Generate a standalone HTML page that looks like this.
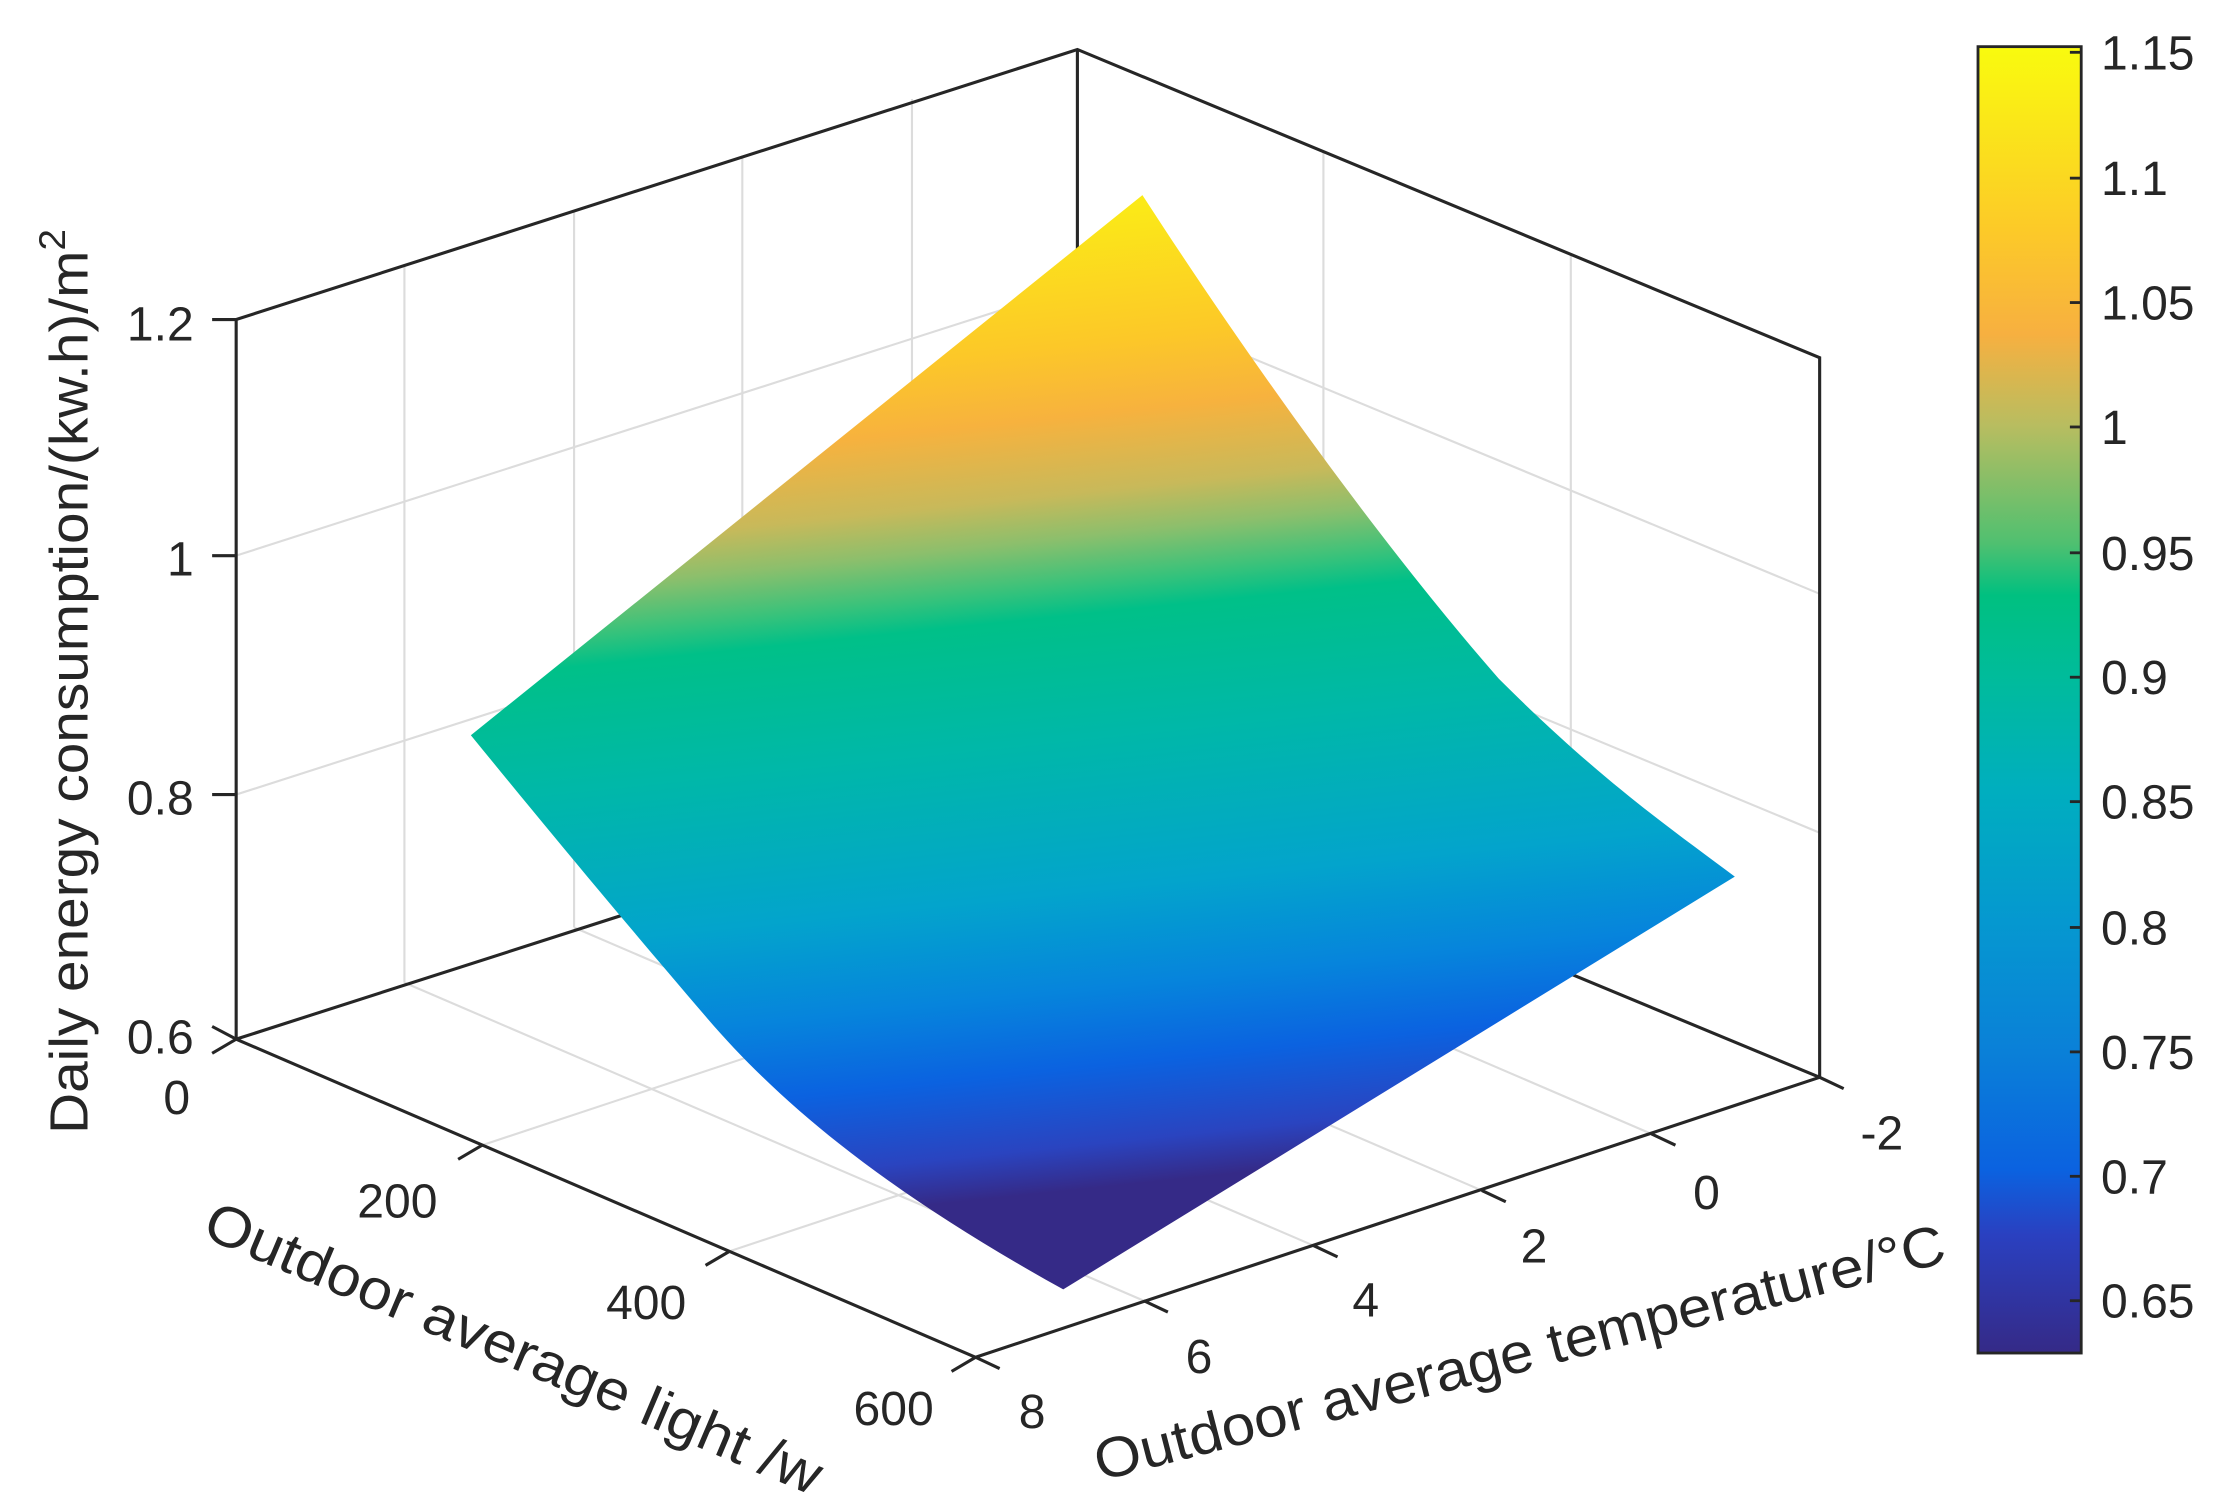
<!DOCTYPE html>
<html><head><meta charset="utf-8"><style>
html,body{margin:0;padding:0;background:#fff;}
svg{display:block;}
text{font-family:"Liberation Sans",Arial,sans-serif;fill:#262626;}
</style></head><body>
<svg width="2217" height="1493" viewBox="0 0 1568 1056" xmlns="http://www.w3.org/2000/svg">
<defs>
<linearGradient id="surf" gradientUnits="userSpaceOnUse" x1="0" y1="138" x2="80" y2="912">
<stop offset="0" stop-color="#f9fb0e"/>
<stop offset="0.12" stop-color="#fbe818"/>
<stop offset="0.235" stop-color="#fcc828"/>
<stop offset="0.30" stop-color="#f7b23e"/>
<stop offset="0.37" stop-color="#c8b95a"/>
<stop offset="0.41" stop-color="#8cbf6c"/>
<stop offset="0.45" stop-color="#3cc27a"/>
<stop offset="0.48" stop-color="#00c088"/>
<stop offset="0.59" stop-color="#00b8a8"/>
<stop offset="0.73" stop-color="#03a4cc"/>
<stop offset="0.82" stop-color="#0684dc"/>
<stop offset="0.89" stop-color="#0b62e0"/>
<stop offset="0.96" stop-color="#2a44c0"/>
<stop offset="1" stop-color="#352a87"/>
</linearGradient>
<linearGradient id="cbar" x1="0" y1="1" x2="0" y2="0">
<stop offset="0" stop-color="#352a87"/>
<stop offset="0.09" stop-color="#2a40c0"/>
<stop offset="0.14" stop-color="#0b62e0"/>
<stop offset="0.23" stop-color="#0a80d8"/>
<stop offset="0.33" stop-color="#0598d0"/>
<stop offset="0.43" stop-color="#00aebf"/>
<stop offset="0.52" stop-color="#00bc9a"/>
<stop offset="0.58" stop-color="#00c080"/>
<stop offset="0.62" stop-color="#50c070"/>
<stop offset="0.71" stop-color="#b8bd60"/>
<stop offset="0.78" stop-color="#f7b040"/>
<stop offset="0.86" stop-color="#fcca28"/>
<stop offset="1" stop-color="#f9fb0e"/>
</linearGradient>
</defs>
<g stroke="#dcdcdc" stroke-width="1.5" fill="none">
<line x1="167" y1="562" x2="762" y2="371"/>
<line x1="167" y1="393" x2="762" y2="202"/>
<line x1="762" y1="371" x2="1287" y2="589"/>
<line x1="762" y1="202" x2="1287" y2="420"/>
<line x1="286" y1="695" x2="286" y2="187"/>
<line x1="406" y1="656" x2="406" y2="149"/>
<line x1="525" y1="617" x2="525" y2="110"/>
<line x1="645" y1="577" x2="645" y2="70"/>
<line x1="936" y1="617" x2="936" y2="108"/>
<line x1="1111" y1="689" x2="1111" y2="180"/>
<line x1="286" y1="695" x2="809" y2="920"/>
<line x1="406" y1="656" x2="929" y2="881"/>
<line x1="525" y1="617" x2="1048" y2="842"/>
<line x1="645" y1="577" x2="1168" y2="802"/>
<line x1="341" y1="810" x2="938" y2="612"/>
<line x1="516" y1="885" x2="1113" y2="687"/>
</g>
<g stroke="#262626" stroke-width="2.2" fill="none">
<polyline points="167,735 167,226 762,35 1287,253 1287,762"/>
<line x1="762" y1="35" x2="762" y2="544"/>
<line x1="167" y1="735" x2="762" y2="544"/>
<line x1="762" y1="544" x2="1287" y2="762"/>
</g>
<path d="M808,138 C900,280 990,400 1060,480 C1130,550 1180,585 1227,620 L752,912 C640,850 560,790 500,720 C440,650 390,590 333,520 Z" fill="url(#surf)"/>
<g stroke="#262626" stroke-width="2.2" fill="none">
<line x1="167" y1="735" x2="690" y2="960"/>
<line x1="690" y1="960" x2="1287" y2="762"/>
<line x1="150" y1="745" x2="167" y2="735"/>
<line x1="150" y1="726" x2="167" y2="735"/>
<line x1="150" y1="562" x2="167" y2="562"/>
<line x1="150" y1="393" x2="167" y2="393"/>
<line x1="150" y1="226" x2="167" y2="226"/>
<line x1="324" y1="820" x2="341" y2="810"/>
<line x1="499" y1="895" x2="516" y2="885"/>
<line x1="673" y1="970" x2="690" y2="960"/>
<line x1="690" y1="960" x2="707" y2="968"/>
<line x1="809" y1="920" x2="826" y2="928"/>
<line x1="929" y1="881" x2="946" y2="889"/>
<line x1="1048" y1="842" x2="1065" y2="850"/>
<line x1="1168" y1="802" x2="1185" y2="810"/>
<line x1="1287" y1="762" x2="1304" y2="770"/>
</g>
<g font-size="34" text-anchor="end">
<text x="137" y="241">1.2</text>
<text x="137" y="407">1</text>
<text x="137" y="576">0.8</text>
<text x="137" y="745">0.6</text>
</g>
<g font-size="34" text-anchor="middle">
<text x="125" y="788">0</text>
<text x="281" y="861">200</text>
<text x="457" y="933">400</text>
<text x="632" y="1008">600</text>
<text x="730" y="1010">8</text>
<text x="848" y="971">6</text>
<text x="966" y="931">4</text>
<text x="1085" y="893">2</text>
<text x="1207" y="855">0</text>
<text x="1331" y="813">-2</text>
</g>
<text font-size="38" text-anchor="middle" textLength="640" lengthAdjust="spacingAndGlyphs" transform="translate(62,482) rotate(-90)">Daily energy consumption/(kw.h)/m<tspan font-size="26" dy="-16">2</tspan></text>
<text font-size="40" text-anchor="middle" textLength="470" lengthAdjust="spacingAndGlyphs" transform="translate(358,966) rotate(23)">Outdoor average light /w</text>
<text font-size="40" text-anchor="middle" textLength="620" lengthAdjust="spacingAndGlyphs" transform="translate(1078,970) rotate(-14.5)">Outdoor average temperature/°C</text>
<rect x="1399" y="33" width="73" height="924" fill="url(#cbar)" stroke="#262626" stroke-width="2"/>
<g stroke="#262626" stroke-width="2">
<line x1="1464" y1="37" x2="1472" y2="37"/><line x1="1464" y1="126" x2="1472" y2="126"/>
<line x1="1464" y1="214" x2="1472" y2="214"/><line x1="1464" y1="302" x2="1472" y2="302"/>
<line x1="1464" y1="391" x2="1472" y2="391"/><line x1="1464" y1="479" x2="1472" y2="479"/>
<line x1="1464" y1="567" x2="1472" y2="567"/><line x1="1464" y1="656" x2="1472" y2="656"/>
<line x1="1464" y1="744" x2="1472" y2="744"/><line x1="1464" y1="832" x2="1472" y2="832"/>
<line x1="1464" y1="920" x2="1472" y2="920"/>
</g>
<g font-size="34">
<text x="1486" y="49">1.15</text><text x="1486" y="138">1.1</text>
<text x="1486" y="226">1.05</text><text x="1486" y="314">1</text>
<text x="1486" y="403">0.95</text><text x="1486" y="491">0.9</text>
<text x="1486" y="579">0.85</text><text x="1486" y="668">0.8</text>
<text x="1486" y="756">0.75</text><text x="1486" y="844">0.7</text>
<text x="1486" y="932">0.65</text>
</g>
</svg>
</body></html>
